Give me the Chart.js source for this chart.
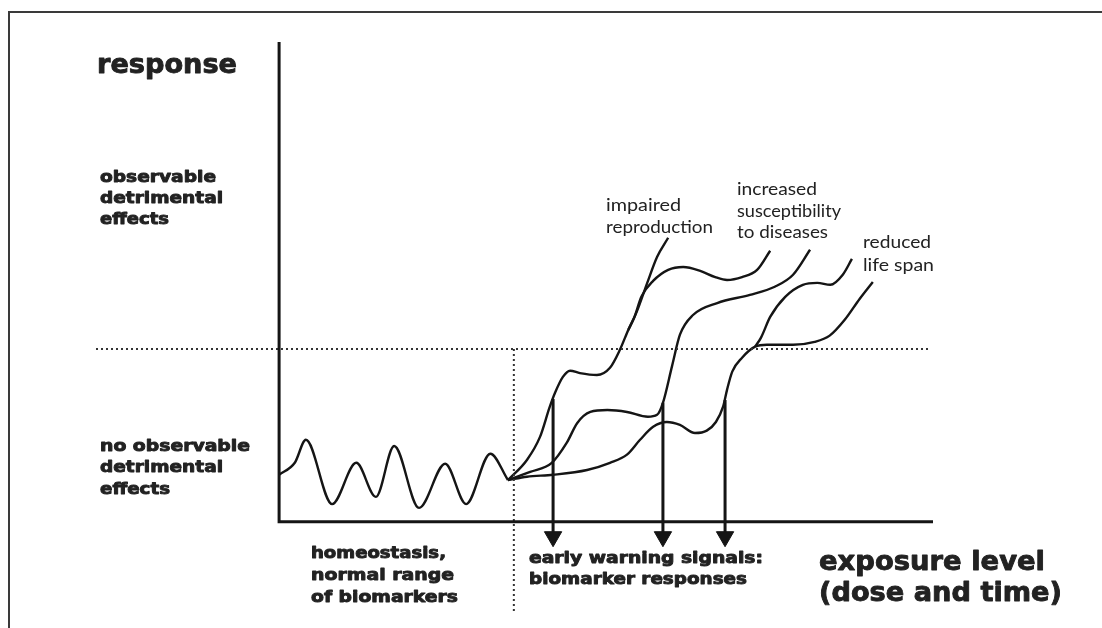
<!DOCTYPE html>
<html>
<head>
<meta charset="utf-8">
<script src="https://cdn.jsdelivr.net/npm/chart.js@4.4.1/dist/chart.umd.min.js"></script>
<style>
  html, body { margin: 0; padding: 0; background: #fff; }
  #wrap { width: 1102px; height: 628px; }
</style>
</head>
<body>
<div id="wrap"><canvas id="biomarkerChart" width="1102" height="628"></canvas></div>
<script>
// exposure (x) / response (y), both 0..100 on the drawn axes

// homeostasis, normal range of biomarkers
const homeoX = [0, 2.4, 4.1, 8.1, 11.8, 14.8, 17.6, 21.4, 25.4, 28.6, 32.3, 35.0];
const homeoY = [9.8, 12.3, 17.1, 3.7, 12.3, 5.2, 15.8, 2.9, 12.1, 3.7, 14.2, 8.7];

// first biomarker curve -> impaired reproduction
const reproX = [35.0, 37.9, 39.9, 41.4, 42.2, 43.4, 44.5, 46.0, 48.6, 50.6, 52.1, 53.4, 54.7, 56.3, 57.8, 59.5];
const reproY = [8.7, 12.9, 17.7, 24.0, 26.9, 30.2, 31.5, 31.0, 30.6, 32.1, 35.8, 40.0, 43.8, 49.8, 55.2, 59.2];
const reproWaveX = [53.4, 54.3, 55.4, 57.2, 59.5, 61.8, 64.4, 66.7, 68.5, 70.8, 73.1, 75.1];
const reproWaveY = [40.0, 42.5, 46.9, 50.2, 52.5, 53.1, 52.3, 51.0, 50.4, 51.0, 52.5, 56.5];

// second biomarker curve -> increased susceptibility to diseases
const suscX = [35.0, 38.4, 41.7, 44.0, 45.6, 47.6, 50.2, 53.2, 56.4, 57.8, 58.7, 60.1, 61.3, 63.3, 67.0, 72.0, 75.8, 78.6, 81.2];
const suscY = [8.7, 10.4, 12.3, 16.5, 20.6, 22.9, 23.3, 22.9, 21.9, 22.3, 24.8, 32.5, 39.0, 43.1, 45.6, 47.3, 49.0, 51.5, 56.7];

// third biomarker curve -> reduced life span
const lifeX = [35.0, 37.9, 41.9, 47.1, 50.6, 53.2, 55.2, 57.2, 59.3, 61.3, 63.6, 65.4, 66.8, 67.9, 68.5, 69.3, 70.8, 72.8, 74.6, 78.6, 81.9, 84.2, 86.5, 88.8, 90.8];
const lifeY = [8.7, 9.4, 9.8, 10.8, 12.3, 14.0, 17.1, 19.8, 20.8, 20.2, 18.5, 19.0, 20.8, 24.0, 27.5, 31.3, 34.2, 36.5, 36.9, 36.9, 37.5, 38.8, 42.1, 46.5, 50.0];
const lifeUpX = [72.8, 73.7, 75.1, 77.4, 80.1, 82.3, 84.3, 86.2, 87.6];
const lifeUpY = [36.5, 38.4, 42.7, 46.9, 49.4, 49.8, 49.4, 51.5, 54.8];

// early warning arrows
const arrowX = [41.9, 58.7, 68.2];
const arrowTop = [25.6, 24.8, 25.4];
const arrowEnd = -3.1;

// thresholds
const effectLevel = 36.0;
const warningStart = 35.9;
const xMin = -28, xMax = 100, yMin = -19, yMax = 100;

const INK = '#151515';
const TEXT = '#222';

function pts(xs, ys) {
  return xs.map((x, i) => ({ x: x, y: ys[i] }));
}

function curve(xs, ys) {
  return {
    data: pts(xs, ys),
    borderColor: INK,
    borderWidth: 2.4,
    pointRadius: 0,
    fill: false,
    cubicInterpolationMode: 'monotone'
  };
}

function straight(data, width, dash) {
  return {
    data: data,
    borderColor: dash ? '#333' : INK,
    borderWidth: width,
    borderDash: dash || [],
    pointRadius: 0,
    fill: false,
    tension: 0
  };
}

const datasets = [
  straight([{ x: 0, y: yMax }, { x: 0, y: 0 }, { x: xMax, y: 0 }], 3),
  straight([{ x: xMin, y: effectLevel }, { x: 99.5, y: effectLevel }], 2, [2, 3]),
  straight([{ x: warningStart, y: effectLevel }, { x: warningStart, y: yMin }], 2, [2, 3]),
  curve(homeoX, homeoY),
  curve(reproX, reproY),
  curve(reproWaveX, reproWaveY),
  curve(suscX, suscY),
  curve(lifeX, lifeY),
  curve(lifeUpX, lifeUpY)
];

arrowX.forEach((x, i) => {
  datasets.push({
    data: [{ x: x, y: arrowTop[i] }, { x: x, y: arrowEnd }],
    borderColor: INK,
    borderWidth: 3,
    tension: 0,
    fill: false,
    pointRadius: [0, 10],
    pointStyle: 'triangle',
    rotation: 180,
    pointBackgroundColor: INK,
    pointBorderColor: INK,
    pointBorderWidth: 1
  });
});

// [text, left, baseline, width, size, heavy]
const textItems = [
  ['response', 97, 73, 140, 27, true],
  ['observable', 100, 182, 116, 16, true],
  ['detrimental', 100, 203, 123, 16, true],
  ['effects', 100, 224, 69, 16, true],
  ['no observable', 100, 451, 150, 16, true],
  ['detrimental', 100, 472, 123, 16, true],
  ['effects', 100, 494, 70, 16, true],
  ['homeostasis,', 311, 558, 135, 16, true],
  ['normal range', 311, 580, 143, 16, true],
  ['of biomarkers', 311, 602, 147, 16, true],
  ['early warning signals:', 529, 563, 234, 16, true],
  ['biomarker responses', 529, 584, 218, 16, true],
  ['exposure level', 819, 570, 226, 27, true],
  ['(dose and time)', 819, 601, 243, 27, true],
  ['impaired', 606, 211, 75, 17, false],
  ['reproduction', 606, 233, 107, 17, false],
  ['increased', 737, 195, 80, 17, false],
  ['susceptibility', 737, 217, 104, 17, false],
  ['to diseases', 737, 238, 91, 17, false],
  ['reduced', 863, 248, 68, 17, false],
  ['life span', 863, 271, 71, 17, false]
];

function fitText(ctx, item) {
  const [txt, x, y, w, size, heavy] = item;
  ctx.save();
  ctx.font = (heavy ? 'bold ' : '') + size + 'px ' + (heavy ? '"DejaVu Sans"' : 'Lato, "Noto Sans"');
  ctx.textBaseline = 'alphabetic';
  ctx.fillStyle = TEXT;
  const m = ctx.measureText(txt).width;
  ctx.translate(x, y);
  ctx.scale(w / m, 1);
  ctx.fillText(txt, 0, 0);
  if (heavy) {
    ctx.strokeStyle = TEXT;
    ctx.lineWidth = 0.9;
    ctx.lineJoin = 'round';
    ctx.strokeText(txt, 0, 0);
  }
  ctx.restore();
}

const pagePlugin = {
  id: 'page',
  beforeDraw(chart) {
    const ctx = chart.ctx;
    ctx.save();
    ctx.fillStyle = '#fff';
    ctx.fillRect(0, 0, chart.width, chart.height);
    ctx.strokeStyle = '#3a3a3a';
    ctx.lineWidth = 2;
    ctx.beginPath();
    ctx.moveTo(9, chart.height);
    ctx.lineTo(9, 12);
    ctx.lineTo(chart.width, 12);
    ctx.stroke();
    ctx.restore();
  },
  afterDraw(chart) {
    textItems.forEach(t => fitText(chart.ctx, t));
  }
};

document.addEventListener('DOMContentLoaded', () => {
  const ctx = document.getElementById('biomarkerChart').getContext('2d');
  new Chart(ctx, {
    type: 'line',
    data: { datasets: datasets },
    options: {
      responsive: false,
      animation: false,
      layout: { padding: { left: 96, right: 169, top: 42, bottom: 15 } },
      scales: {
        x: { type: 'linear', min: xMin, max: xMax, display: false },
        y: { type: 'linear', min: yMin, max: yMax, display: false }
      },
      plugins: {
        legend: { display: false },
        tooltip: { enabled: false }
      }
    },
    plugins: [pagePlugin]
  });
});
</script>
</body>
</html>
